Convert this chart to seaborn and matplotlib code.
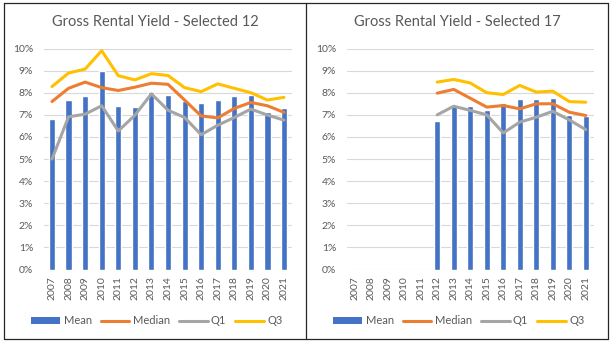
import numpy as np
import pandas as pd
import matplotlib
matplotlib.use("Agg")
import matplotlib.pyplot as plt
from matplotlib.lines import Line2D
from matplotlib.patches import Patch
import seaborn as sns

years = list(range(2007, 2022))

# Selected 12 (percent)
mean_12 = [6.80, 7.67, 7.85, 9.00, 7.40, 7.34, 8.02, 7.90, 7.61, 7.53, 7.67, 7.85, 7.88, 7.14, 7.31]
median_12 = [7.60, 8.20, 8.48, 8.23, 8.10, 8.25, 8.43, 8.38, 7.67, 6.95, 6.86, 7.29, 7.56, 7.41, 7.11]
q1_12 = [5.00, 6.91, 7.03, 7.41, 6.27, 6.98, 7.95, 7.21, 6.88, 6.10, 6.53, 6.88, 7.26, 6.99, 6.76]
q3_12 = [8.28, 8.89, 9.07, 9.90, 8.77, 8.58, 8.86, 8.78, 8.23, 8.05, 8.40, 8.20, 8.00, 7.67, 7.79]

# Selected 17 (percent), no data before 2012
nan = np.nan
mean_17 = [nan, nan, nan, nan, nan, 6.70, 7.42, 7.38, 7.23, 7.55, 7.73, 7.73, 7.77, 6.97, 6.94]
median_17 = [nan, nan, nan, nan, nan, 7.98, 8.15, 7.75, 7.35, 7.42, 7.27, 7.50, 7.50, 7.12, 6.97]
q1_17 = [nan, nan, nan, nan, nan, 7.00, 7.39, 7.20, 7.00, 6.18, 6.67, 6.89, 7.16, 6.77, 6.33]
q3_17 = [nan, nan, nan, nan, nan, 8.48, 8.60, 8.44, 8.00, 7.92, 8.33, 8.03, 8.07, 7.60, 7.57]

titles = ["Gross Rental Yield - Selected 12", "Gross Rental Yield - Selected 17"]
series_names = ["Mean", "Median", "Q1", "Q3"]
y_ticks = [0, 1, 2, 3, 4, 5, 6, 7, 8, 9, 10]
y_tick_labels = [f"{v}%" for v in y_ticks]

colors = {"Mean": "#4472C4", "Median": "#ED7D31", "Q1": "#A5A5A5", "Q3": "#FFC000"}
text_color = "#595959"

sns.set_theme(style="white")
plt.rcParams["font.family"] = ["Lato", "DejaVu Sans"]

W, H = 614, 346
fig = plt.figure(figsize=(W / 100, H / 100), dpi=100)

def fx(px):
    return px / W

def fy(py):
    return 1 - py / H

panels = [
    dict(mean=mean_12, median=median_12, q1=q1_12, q3=q3_12, left=43.7, right=292.3, center=155),
    dict(mean=mean_17, median=median_17, q1=q1_17, q3=q3_17, left=346.5, right=594.0, center=457),
]
top_px, bot_px = 48.5, 269.6

for i, p in enumerate(panels):
    ax = fig.add_axes([fx(p["left"]), fy(bot_px), fx(p["right"] - p["left"]), (bot_px - top_px) / H])
    df_bar = pd.DataFrame({"Year": years, "Mean": p["mean"]}).dropna()
    sns.barplot(data=df_bar, x="Year", y="Mean", native_scale=True, width=0.37,
                color=colors["Mean"], saturation=1, ax=ax, zorder=2)
    df_lines = pd.DataFrame({"Year": years, "Median": p["median"], "Q1": p["q1"], "Q3": p["q3"]})
    long = df_lines.melt(id_vars="Year", var_name="Series", value_name="Value").dropna()
    sns.lineplot(data=long, x="Year", y="Value", hue="Series", hue_order=["Median", "Q1", "Q3"],
                 palette=[colors["Median"], colors["Q1"], colors["Q3"]], linewidth=2.2,
                 ax=ax, legend=False, zorder=3)
    ax.set_xlim(2006.5, 2021.5)
    ax.set_ylim(0, 10)
    ax.set_yticks(y_ticks)
    ax.set_yticklabels(y_tick_labels)
    ax.set_xticks(years)
    ax.set_xticklabels([str(y) for y in years], rotation=90)
    ax.set_xlabel("")
    ax.set_ylabel("")
    for s in ax.spines.values():
        s.set_visible(False)
    ax.grid(axis="y", color="#D9D9D9", linewidth=0.8, zorder=0)
    ax.grid(axis="x", visible=False)
    ax.set_axisbelow(True)
    ax.tick_params(axis="y", length=0, pad=7.5, labelsize=7.5, labelcolor=text_color)
    ax.tick_params(axis="x", length=0, pad=4.5, labelsize=7.5, labelcolor=text_color)
    ax.patch.set_alpha(0)

    fig.text(fx(p["center"]), fy(22), titles[i], ha="center", va="center",
             fontsize=10.5, color=text_color)

    handles = [
        Patch(facecolor=colors["Mean"], edgecolor="none"),
        Line2D([0], [0], color=colors["Median"], linewidth=2.2),
        Line2D([0], [0], color=colors["Q1"], linewidth=2.2),
        Line2D([0], [0], color=colors["Q3"], linewidth=2.2),
    ]
    fig.legend(handles, series_names, loc="center", bbox_to_anchor=(fx(p["center"] + 2), fy(321)),
               ncol=4, frameon=False, fontsize=8, labelcolor=text_color,
               handlelength=2.6, handleheight=0.55, handletextpad=0.3, columnspacing=0.8)

# panel borders
border_color = "#262626"
lw = 0.9
for (x0, y0, x1, y1) in [(4, 3, 608, 3), (4, 339, 608, 339), (4, 3, 4, 339),
                         (608, 3, 608, 339), (306, 3, 306, 339)]:
    fig.add_artist(Line2D([fx(x0), fx(x1)], [fy(y0), fy(y1)], color=border_color,
                          linewidth=lw, transform=fig.transFigure))

fig.savefig("out.png", dpi=100, facecolor="white")
